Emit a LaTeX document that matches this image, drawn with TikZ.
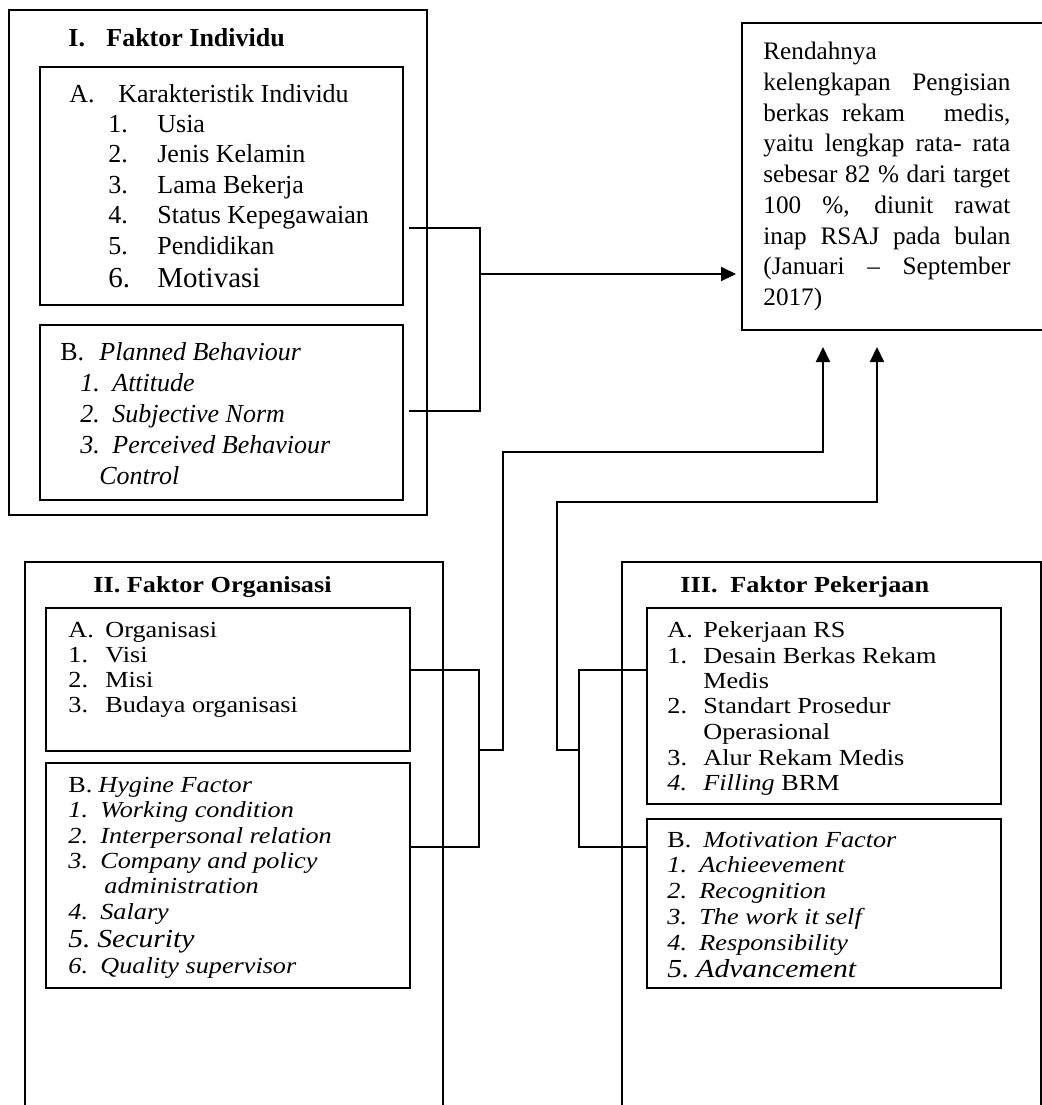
\documentclass[tikz,border=0pt]{standalone}
\usepackage{fontspec}
\setmainfont{Liberation Serif}
\newfontfamily\lowfont[FakeStretch=1.14]{Liberation Serif}
\usetikzlibrary{arrows.meta,fit}

\tikzset{
  outerbox/.style={draw, line width=1pt, inner sep=0pt},
  innerbox/.style={draw, line width=0.65pt, inner sep=0pt},
  link/.style={line width=0.75pt},
  arrow/.style={line width=1pt, -{Triangle[length=7.5pt,width=7pt]}},
  txt/.style={anchor=base west, inner sep=0pt, font=\fontsize{13}{15}\selectfont},
  lowtxt/.style={anchor=base west, inner sep=0pt, font=\lowfont\fontsize{11.5}{13}\selectfont},
  judul/.style={anchor=base west, inner sep=0pt, font=\lowfont\bfseries\fontsize{11.5}{13}\selectfont},
}

\begin{document}
\begin{tikzpicture}[x=0.5pt, y=-0.5pt]
\useasboundingbox (0,0) rectangle (1042,1105);

\node[outerbox, fit={(9,10) (427,515)}] (faktorI) {};
\node[innerbox, fit={(40,67) (403,305)}] (indA) {};
\node[innerbox, fit={(40,325) (403,500)}] (indB) {};

\node[outerbox, fit={(25,562) (443,1125)}] (faktorII) {};
\node[innerbox, fit={(46,608) (410,751)}] (orgA) {};
\node[innerbox, fit={(46,763) (410,988)}] (orgB) {};

\node[outerbox, fit={(622,562) (1041,1125)}] (faktorIII) {};
\node[innerbox, fit={(647,608) (1001,804)}] (kerA) {};
\node[innerbox, fit={(647,819) (1001,988)}] (kerB) {};

\node[outerbox, fit={(742,23) (1060,330)}] (hasil) {};

% I. Faktor Individu
\node[txt, font=\bfseries\fontsize{13}{15}\selectfont] (judulI) at (68,46) {\makebox[19pt][l]{I.}Faktor Individu};
\node[txt] (indA0) at (69,102) {\makebox[24.5pt][l]{A.}Karakteristik Individu};
\foreach \t [count=\i] in {Usia, Jenis Kelamin, Lama Bekerja, Status Kepegawaian, Pendidikan}
  \node[txt] (indA\i) at (108,101.5+30.6*\i) {\makebox[24.5pt][l]{\i.}\t};
\node[txt, font=\fontsize{14.5}{17}\selectfont] (indA6) at (108,287) {\makebox[24.5pt][l]{6.}Motivasi};
\node[txt] (indB0) at (60,360) {\makebox[19.5pt][l]{B.}\textit{Planned Behaviour}};
\foreach \t [count=\i] in {Attitude, Subjective Norm, Perceived Behaviour}
  \node[txt] (indB\i) at (80,360+31*\i) {\itshape\makebox[16pt][l]{\i.}\t};
\node[txt] (indB4) at (99,484) {\textit{Control}};

% II. Faktor Organisasi
\node[judul] (judulII) at (93,592) {II. Faktor Organisasi};
\node[lowtxt] (orgA0) at (68,637) {\makebox[18.5pt][l]{A.}Organisasi};
\foreach \t [count=\i] in {Visi, Misi, Budaya organisasi}
  \node[lowtxt] (orgA\i) at (68,637+25.3*\i) {\makebox[18.5pt][l]{\i.}\t};
\node[lowtxt] (orgB0) at (68,792) {\makebox[15pt][l]{B.}\textit{Hygine Factor}};
\foreach \n/\t/\y in {1/Working condition/817, 2/Interpersonal relation/843, 3/Company and policy/868, 4/Salary/919, 6/Quality supervisor/973}
  \node[lowtxt] (orgB\n) at (68,\y) {\itshape\makebox[16pt][l]{\n.}\t};
\node[lowtxt] (orgB7) at (104,893) {\textit{administration}};
\node[lowtxt, font=\lowfont\fontsize{13}{15}\selectfont] (orgB5) at (68,947) {\itshape\makebox[14.5pt][l]{5.}Security};

% III. Faktor Pekerjaan
\node[judul] (judulIII) at (680,592) {\makebox[25pt][l]{III.}Faktor Pekerjaan};
\node[lowtxt] (kerA0) at (667,637) {\makebox[18pt][l]{A.}Pekerjaan RS};
\foreach \n/\t/\y in {1/Desain Berkas Rekam/663, 2/Standart Prosedur/713, 3/Alur Rekam Medis/765}
  \node[lowtxt] (kerA\n) at (667,\y) {\makebox[18pt][l]{\n.}\t};
\node[lowtxt] (kerA5) at (703,688) {Medis};
\node[lowtxt] (kerA6) at (703,739) {Operasional};
\node[lowtxt] (kerA4) at (667,790) {\itshape\makebox[18pt][l]{4.}Filling\upshape{} BRM};
\node[lowtxt] (kerB0) at (667,847) {\makebox[18pt][l]{B.}\textit{Motivation Factor}};
\foreach \t [count=\i] in {Achieevement, Recognition, The work it self, Responsibility}
  \node[lowtxt] (kerB\i) at (667,847+25.8*\i) {\itshape\makebox[16pt][l]{\i.}\t};
\node[lowtxt, font=\lowfont\fontsize{13}{15}\selectfont] (kerB5) at (667,977) {\itshape\makebox[14.5pt][l]{5.}Advancement};

% hasil
\node[anchor=north west, inner sep=0pt, text width=123.5pt, align=justify,
      font=\fontsize{12.6}{15.35}\selectfont] (hasilteks) at (763,42)
  {Rendahnya\\ kelengkapan Pengisian\linebreak berkas rekam\ \ \ medis,\linebreak
   yaitu lengkap rata- rata\linebreak sebesar 82 \% dari target\linebreak
   100 \%, diunit rawat\linebreak inap RSAJ pada bulan\linebreak
   (Januari -- September\linebreak 2017)};

% penghubung
\coordinate (iAo) at (409,228);
\coordinate (iBo) at (409,411);
\coordinate (jI) at (480,274);
\draw[link] (iAo) -| (jI) |- (iBo);
\draw[arrow, shorten >=2.5pt] (jI) -- (jI -| hasil.west);

\coordinate (oAo) at (410,670);
\coordinate (oBo) at (410,847);
\coordinate (jII) at (479,750);
\coordinate (kII) at (503,452);
\coordinate (inII) at (823,330);
\draw[link] (oAo) -| (jII) |- (oBo);
\draw[arrow, shorten >=8.5pt] (jII) -| (kII) -| (inII);

\coordinate (kAo) at (647,670);
\coordinate (kBo) at (647,847);
\coordinate (jIII) at (579,750);
\coordinate (kIII) at (557,502);
\coordinate (inIII) at (877,330);
\draw[link] (kAo) -| (jIII) |- (kBo);
\draw[arrow, shorten >=8.5pt] (jIII) -| (kIII) -| (inIII);
\end{tikzpicture}
\end{document}
